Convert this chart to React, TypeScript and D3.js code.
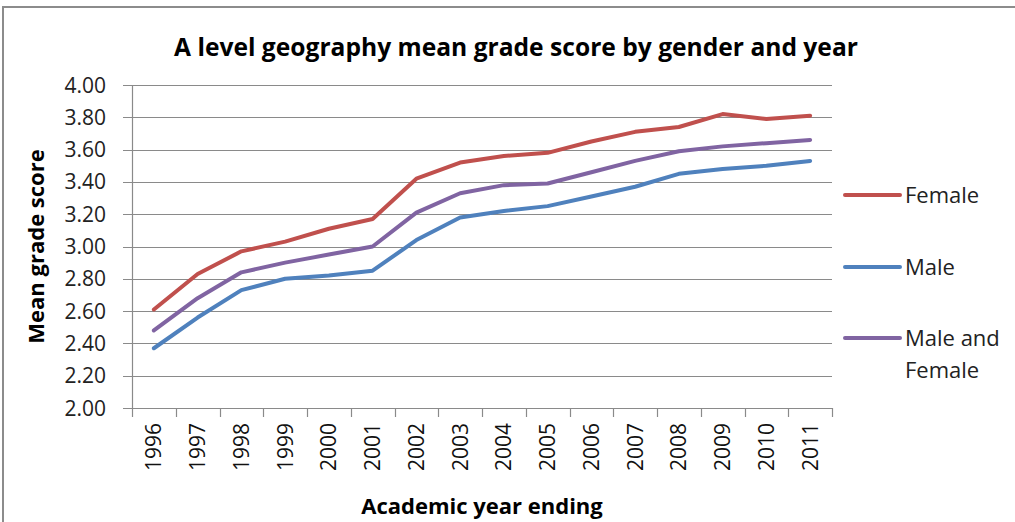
import { useEffect, useRef } from "react";
import * as d3 from "d3";

const years = ["1996", "1997", "1998", "1999", "2000", "2001", "2002", "2003", "2004", "2005", "2006", "2007", "2008", "2009", "2010", "2011"];
const female = [2.61, 2.83, 2.97, 3.03, 3.11, 3.17, 3.42, 3.52, 3.56, 3.58, 3.65, 3.71, 3.74, 3.82, 3.79, 3.81];
const male = [2.37, 2.56, 2.73, 2.80, 2.82, 2.85, 3.04, 3.18, 3.22, 3.25, 3.31, 3.37, 3.45, 3.48, 3.50, 3.53];
const both = [2.48, 2.68, 2.84, 2.90, 2.95, 3.00, 3.21, 3.33, 3.38, 3.39, 3.46, 3.53, 3.59, 3.62, 3.64, 3.66];
const yTicks = [2.0, 2.2, 2.4, 2.6, 2.8, 3.0, 3.2, 3.4, 3.6, 3.8, 4.0];

const seriesList = [
    { name: ["Female"], values: female, color: "#C0504D" },
    { name: ["Male"], values: male, color: "#4F81BD" },
    { name: ["Male and", "Female"], values: both, color: "#8064A2" },
];

const W = 1015;
const H = 522;
const font = "'Open Sans', sans-serif";

export default function App() {
    const svgRef = useRef(null);

    useEffect(() => {
        const svg = d3.select(svgRef.current);
        svg.selectAll("*").remove();

        const left = 132, right = 832, top = 85, bottom = 408;

        const xScale = d3.scaleBand().domain(years).range([left, right]);
        const yScale = d3.scaleLinear().domain([2, 4]).range([bottom, top]);

        // outer border
        svg.append("path")
            .attr("d", `M3,${H} L3,7 L${W},7`)
            .attr("fill", "none")
            .attr("stroke", "#8c8c8c")
            .attr("stroke-width", 2);

        // gridlines
        svg.append("g").selectAll("line")
            .data(yTicks)
            .join("line")
            .attr("x1", left - 9)
            .attr("x2", right)
            .attr("y1", d => Math.round(yScale(d)) + 0.5)
            .attr("y2", d => Math.round(yScale(d)) + 0.5)
            .attr("stroke", "#8a8a8a")
            .attr("stroke-width", 1.2);

        // y axis line
        svg.append("line")
            .attr("x1", left + 0.5).attr("x2", left + 0.5)
            .attr("y1", top).attr("y2", bottom)
            .attr("stroke", "#8a8a8a").attr("stroke-width", 1.2);

        // x tick marks
        const bounds = years.map(y => xScale(y)).concat([right]);
        svg.append("g").selectAll("line")
            .data(bounds)
            .join("line")
            .attr("x1", d => Math.round(d) + 0.5)
            .attr("x2", d => Math.round(d) + 0.5)
            .attr("y1", bottom)
            .attr("y2", bottom + 9)
            .attr("stroke", "#8a8a8a")
            .attr("stroke-width", 1.2);

        // y tick labels
        svg.append("g").selectAll("text")
            .data(yTicks)
            .join("text")
            .text(d => d.toFixed(2))
            .attr("x", 106)
            .attr("y", d => yScale(d))
            .attr("dy", "0.36em")
            .attr("text-anchor", "end")
            .style("font-family", font)
            .style("font-size", 21)
            .attr("fill", "#222");

        // x tick labels
        svg.append("g").selectAll("text")
            .data(years)
            .join("text")
            .text(d => d)
            .attr("transform", d => `translate(${xScale(d) + xScale.bandwidth() / 2 + 7.5}, ${bottom + 15}) rotate(-90)`)
            .attr("text-anchor", "end")
            .style("font-family", font)
            .style("font-size", 21)
            .attr("fill", "#111");

        const line = d3.line()
            .x((d, i) => xScale(years[i]) + xScale.bandwidth() / 2)
            .y(d => yScale(d));

        seriesList.forEach(s => {
            svg.append("path")
                .datum(s.values)
                .attr("fill", "none")
                .attr("stroke", s.color)
                .attr("stroke-width", 4)
                .attr("stroke-linejoin", "round")
                .attr("stroke-linecap", "round")
                .attr("d", line);
        });

        // legend
        const legendY = [195, 267, 338];
        seriesList.forEach((s, i) => {
            svg.append("line")
                .attr("x1", 845).attr("x2", 900)
                .attr("y1", legendY[i]).attr("y2", legendY[i])
                .attr("stroke", s.color)
                .attr("stroke-width", 4)
                .attr("stroke-linecap", "round");
            s.name.forEach((n, j) => {
                svg.append("text")
                    .text(n)
                    .attr("x", 905)
                    .attr("y", legendY[i] + j * 32)
                    .attr("dy", "0.36em")
                    .style("font-family", font)
                    .style("font-size", 22)
                    .attr("fill", "#222");
            });
        });

        // title
        svg.append("text")
            .text("A level geography mean grade score by gender and year")
            .attr("x", 516)
            .attr("y", 56)
            .attr("text-anchor", "middle")
            .style("font-family", font)
            .style("font-weight", 700)
            .style("font-size", 24.6)
            .attr("fill", "#000");

        // y axis title
        svg.append("text")
            .text("Mean grade score")
            .attr("transform", `translate(44, ${(top + bottom) / 2}) rotate(-90)`)
            .attr("text-anchor", "middle")
            .style("font-family", font)
            .style("font-weight", 700)
            .style("font-size", 22)
            .attr("fill", "#000");

        // x axis title
        svg.append("text")
            .text("Academic year ending")
            .attr("x", 482)
            .attr("y", 514)
            .attr("text-anchor", "middle")
            .style("font-family", font)
            .style("font-weight", 700)
            .style("font-size", 22)
            .attr("fill", "#000");
    }, []);

    return (
        <svg
            ref={svgRef}
            width={W}
            height={H}
            style={{ position: "absolute", left: 0, top: 0, background: "#fff" }}
        />
    );
}
